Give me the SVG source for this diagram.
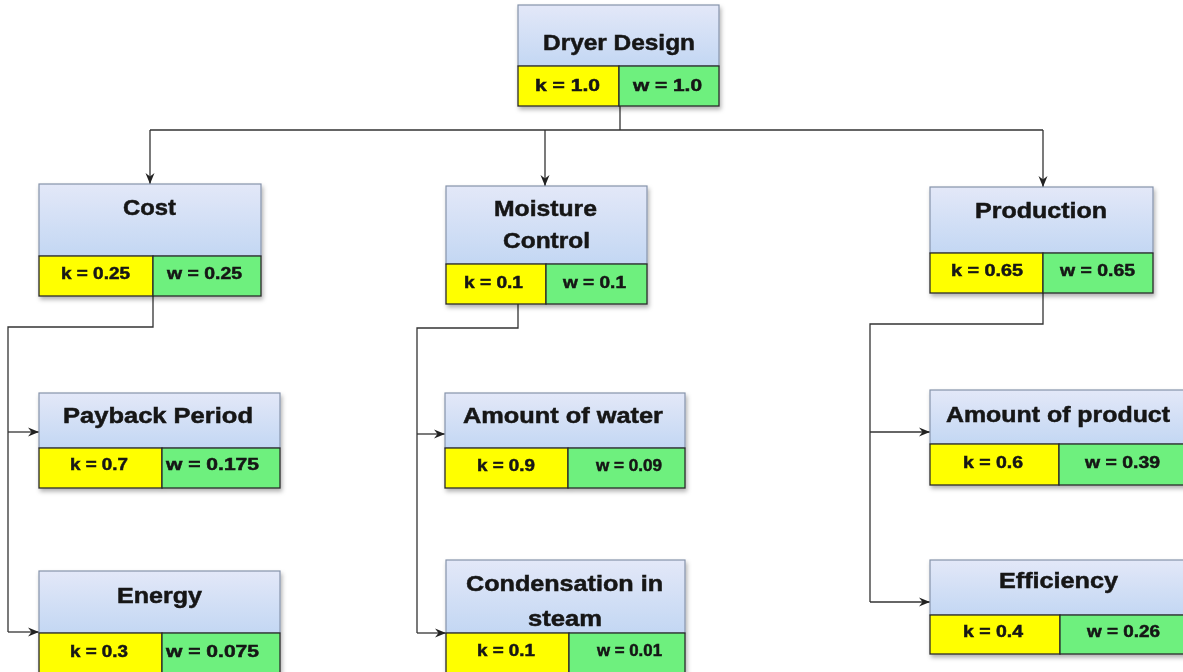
<svg xmlns="http://www.w3.org/2000/svg" width="1183" height="672" viewBox="0 0 1183 672">
<defs>
<linearGradient id="hg" x1="0" y1="0" x2="0" y2="1">
<stop offset="0" stop-color="#e3e8f8"/>
<stop offset="1" stop-color="#c3d7f3"/>
</linearGradient>
<filter id="sh" x="-5%" y="-5%" width="112%" height="125%">
<feDropShadow dx="1.5" dy="3" stdDeviation="2" flood-color="#000" flood-opacity="0.3"/>
</filter>
<marker id="ar" markerWidth="12" markerHeight="10" refX="11" refY="5" orient="auto" markerUnits="userSpaceOnUse">
<path d="M0,0.5 L11,5 L0,9.5 L3.5,5 Z" fill="#222"/>
</marker>
</defs>
<style>
.hd{fill:url(#hg);stroke:#8593ab;stroke-width:1.2}
.ky{fill:#ffff00;stroke:#2a2a2a;stroke-width:1.3}
.wg{fill:#6ef07e;stroke:#2a2a2a;stroke-width:1.3}
.t{font-family:"Liberation Sans",Arial,sans-serif;font-weight:bold;fill:#151515;stroke:#151515;stroke-width:0.5}
.h{font-size:22px}
.v{font-size:16.5px}
.c{fill:none;stroke:#333;stroke-width:1.3}
.a{marker-end:url(#ar)}
</style>
<rect width="1183" height="672" fill="#fff"/>

<g id="connectors">
<path class="c" d="M620,106 V130 M150,130 H1043"/>
<path class="c a" d="M150,130 V184"/>
<path class="c a" d="M545,130 V186"/>
<path class="c a" d="M1043,130 V187"/>
<path class="c" d="M153,296 V327 H8 V632"/>
<path class="c a" d="M8,432 H39"/>
<path class="c a" d="M8,632 H39"/>
<path class="c" d="M518,304 V328 H417 V633"/>
<path class="c a" d="M417,434 H445"/>
<path class="c a" d="M417,633 H446"/>
<path class="c" d="M1043,293 V324 H870 V602"/>
<path class="c a" d="M870,432 H930"/>
<path class="c a" d="M870,602 H930"/>
</g>

<g id="root" filter="url(#sh)">
<rect class="hd" x="518" y="5" width="201" height="61"/>
<rect class="ky" x="518" y="66" width="101" height="40"/>
<rect class="wg" x="619" y="66" width="100" height="40"/>
<text class="t h" x="543" y="50" textLength="152" lengthAdjust="spacingAndGlyphs">Dryer Design</text>
<text class="t v" x="535" y="91" textLength="65" lengthAdjust="spacingAndGlyphs">k = 1.0</text>
<text class="t v" x="633" y="91" textLength="69" lengthAdjust="spacingAndGlyphs">w = 1.0</text>
</g>

<g id="cost" filter="url(#sh)">
<rect class="hd" x="39" y="184" width="222" height="72"/>
<rect class="ky" x="39" y="256" width="114" height="40"/>
<rect class="wg" x="153" y="256" width="108" height="40"/>
<text class="t h" x="123" y="215" textLength="53" lengthAdjust="spacingAndGlyphs">Cost</text>
<text class="t v" x="61" y="279" textLength="69" lengthAdjust="spacingAndGlyphs">k = 0.25</text>
<text class="t v" x="167" y="279" textLength="75" lengthAdjust="spacingAndGlyphs">w = 0.25</text>
</g>

<g id="payback" filter="url(#sh)">
<rect class="hd" x="39" y="393" width="241" height="55"/>
<rect class="ky" x="39" y="448" width="123" height="40"/>
<rect class="wg" x="162" y="448" width="118" height="40"/>
<text class="t h" x="63" y="423" textLength="190" lengthAdjust="spacingAndGlyphs">Payback Period</text>
<text class="t v" x="70" y="470" textLength="58" lengthAdjust="spacingAndGlyphs">k = 0.7</text>
<text class="t v" x="166" y="470" textLength="93" lengthAdjust="spacingAndGlyphs">w = 0.175</text>
</g>

<g id="energy" filter="url(#sh)">
<rect class="hd" x="39" y="571" width="241" height="62"/>
<rect class="ky" x="39" y="633" width="123" height="41"/>
<rect class="wg" x="162" y="633" width="118" height="41"/>
<text class="t h" x="117" y="603" textLength="85" lengthAdjust="spacingAndGlyphs">Energy</text>
<text class="t v" x="70" y="657" textLength="58" lengthAdjust="spacingAndGlyphs">k = 0.3</text>
<text class="t v" x="166" y="657" textLength="93" lengthAdjust="spacingAndGlyphs">w = 0.075</text>
</g>

<g id="moisture" filter="url(#sh)">
<rect class="hd" x="446" y="186" width="201" height="78"/>
<rect class="ky" x="446" y="264" width="100" height="40"/>
<rect class="wg" x="546" y="264" width="101" height="40"/>
<text class="t h" x="494" y="216" textLength="103" lengthAdjust="spacingAndGlyphs">Moisture</text>
<text class="t h" x="503" y="248" textLength="87" lengthAdjust="spacingAndGlyphs">Control</text>
<text class="t v" x="464" y="288" textLength="59" lengthAdjust="spacingAndGlyphs">k = 0.1</text>
<text class="t v" x="563" y="288" textLength="63" lengthAdjust="spacingAndGlyphs">w = 0.1</text>
</g>

<g id="water" filter="url(#sh)">
<rect class="hd" x="445" y="393" width="240" height="55"/>
<rect class="ky" x="445" y="448" width="123" height="40"/>
<rect class="wg" x="568" y="448" width="117" height="40"/>
<text class="t h" x="463" y="423" textLength="200" lengthAdjust="spacingAndGlyphs">Amount of water</text>
<text class="t v" x="477" y="471" textLength="58" lengthAdjust="spacingAndGlyphs">k = 0.9</text>
<text class="t v" x="596" y="471" textLength="66" lengthAdjust="spacingAndGlyphs">w = 0.09</text>
</g>

<g id="condensation" filter="url(#sh)">
<rect class="hd" x="446" y="560" width="239" height="73"/>
<rect class="ky" x="446" y="633" width="123" height="41"/>
<rect class="wg" x="569" y="633" width="116" height="41"/>
<text class="t h" x="466" y="591" textLength="197" lengthAdjust="spacingAndGlyphs">Condensation in</text>
<text class="t h" x="528" y="626" textLength="74" lengthAdjust="spacingAndGlyphs">steam</text>
<text class="t v" x="477" y="656" textLength="58" lengthAdjust="spacingAndGlyphs">k = 0.1</text>
<text class="t v" x="597" y="656" textLength="65" lengthAdjust="spacingAndGlyphs">w = 0.01</text>
</g>

<g id="production" filter="url(#sh)">
<rect class="hd" x="930" y="187" width="223" height="66"/>
<rect class="ky" x="930" y="253" width="113" height="40"/>
<rect class="wg" x="1043" y="253" width="110" height="40"/>
<text class="t h" x="975" y="218" textLength="132" lengthAdjust="spacingAndGlyphs">Production</text>
<text class="t v" x="951" y="276" textLength="72" lengthAdjust="spacingAndGlyphs">k = 0.65</text>
<text class="t v" x="1060" y="276" textLength="75" lengthAdjust="spacingAndGlyphs">w = 0.65</text>
</g>

<g id="product" filter="url(#sh)">
<rect class="hd" x="930" y="390" width="260" height="54"/>
<rect class="ky" x="930" y="444" width="129" height="41"/>
<rect class="wg" x="1059" y="444" width="131" height="41"/>
<text class="t h" x="946" y="422" textLength="224" lengthAdjust="spacingAndGlyphs">Amount of product</text>
<text class="t v" x="963" y="468" textLength="60" lengthAdjust="spacingAndGlyphs">k = 0.6</text>
<text class="t v" x="1085" y="468" textLength="75" lengthAdjust="spacingAndGlyphs">w = 0.39</text>
</g>

<g id="efficiency" filter="url(#sh)">
<rect class="hd" x="930" y="560" width="260" height="55"/>
<rect class="ky" x="930" y="615" width="130" height="39"/>
<rect class="wg" x="1060" y="615" width="130" height="39"/>
<text class="t h" x="999" y="588" textLength="119" lengthAdjust="spacingAndGlyphs">Efficiency</text>
<text class="t v" x="963" y="637" textLength="60" lengthAdjust="spacingAndGlyphs">k = 0.4</text>
<text class="t v" x="1087" y="637" textLength="73" lengthAdjust="spacingAndGlyphs">w = 0.26</text>
</g>
</svg>
